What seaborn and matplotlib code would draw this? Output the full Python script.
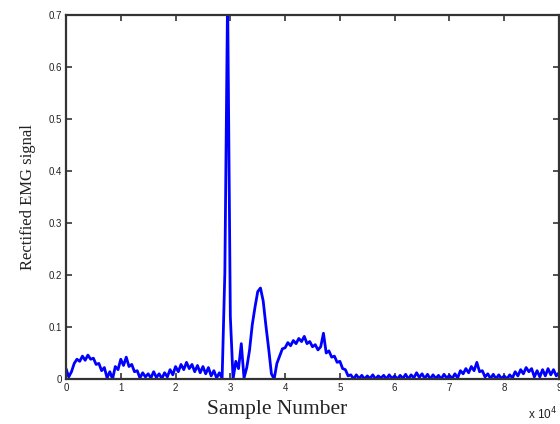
import numpy as np
import pandas as pd
import matplotlib
matplotlib.use("Agg")
import matplotlib.pyplot as plt
import seaborn as sns

# Rectified EMG amplitude, one reading every 500 samples (0 .. 90000)
step = 500
emg = [
    # 0 - 9500
    0.020, 0.004, 0.014, 0.030, 0.038, 0.034, 0.044, 0.036, 0.046, 0.038,
    0.040, 0.028, 0.030, 0.016, 0.022, 0.002, 0.014, 0.000, 0.024, 0.018,
    # 10000 - 19500
    0.038, 0.026, 0.042, 0.024, 0.028, 0.014, 0.016, 0.002, 0.012, 0.004,
    0.010, 0.002, 0.014, 0.003, 0.010, 0.001, 0.012, 0.004, 0.018, 0.008,
    # 20000 - 29500
    0.024, 0.014, 0.028, 0.018, 0.032, 0.020, 0.028, 0.014, 0.026, 0.012,
    0.024, 0.010, 0.022, 0.006, 0.016, 0.002, 0.012, 0.001, 0.205, 0.740,
    # 30000 - 39500
    0.120, 0.000, 0.034, 0.020, 0.068, 0.002, 0.022, 0.055, 0.104, 0.138,
    0.168, 0.175, 0.150, 0.102, 0.058, 0.010, 0.000, 0.030, 0.044, 0.058,
    # 40000 - 49500
    0.060, 0.070, 0.064, 0.074, 0.068, 0.078, 0.072, 0.082, 0.068, 0.072,
    0.062, 0.066, 0.056, 0.062, 0.088, 0.050, 0.054, 0.042, 0.044, 0.032,
    # 50000 - 59500
    0.034, 0.020, 0.018, 0.006, 0.008, 0.000, 0.008, 0.001, 0.007, 0.000,
    0.006, 0.001, 0.008, 0.000, 0.006, 0.002, 0.007, 0.000, 0.008, 0.001,
    # 60000 - 69500
    0.006, 0.000, 0.007, 0.001, 0.009, 0.000, 0.008, 0.002, 0.012, 0.003,
    0.010, 0.001, 0.009, 0.000, 0.008, 0.001, 0.007, 0.000, 0.009, 0.002,
    # 70000 - 79500
    0.007, 0.001, 0.010, 0.002, 0.016, 0.010, 0.020, 0.012, 0.024, 0.016,
    0.032, 0.014, 0.016, 0.004, 0.010, 0.001, 0.009, 0.000, 0.008, 0.001,
    # 80000 - 90000
    0.006, 0.000, 0.008, 0.002, 0.014, 0.006, 0.018, 0.010, 0.022, 0.014,
    0.020, 0.004, 0.016, 0.004, 0.018, 0.006, 0.020, 0.008, 0.018, 0.006,
    0.012,
]
sample_number = np.arange(len(emg)) * step

x_ticks = [0, 1, 2, 3, 4, 5, 6, 7, 8, 9]          # in units of 10^4
y_ticks = [0, 0.1, 0.2, 0.3, 0.4, 0.5, 0.6, 0.7]
y_tick_labels = ["0", "0.1", "0.2", "0.3", "0.4", "0.5", "0.6", "0.7"]

df = pd.DataFrame({"sample": sample_number / 1e4, "emg": emg})

sns.set_style("white")
plt.rcParams["font.family"] = ["Liberation Sans", "DejaVu Sans"]

fig = plt.figure(figsize=(5.6, 4.24), dpi=100)
ax = fig.add_axes([66 / 560, 45 / 424, 493 / 560, 364 / 424])

sns.lineplot(data=df, x="sample", y="emg", ax=ax, color="#0000ff",
             linewidth=2.0, estimator=None, sort=False)

ax.set_xlim(0, 9)
ax.set_ylim(0, 0.7)
ax.set_xticks(x_ticks)
ax.set_xticklabels([str(t) for t in x_ticks])
ax.set_yticks(y_ticks)
ax.set_yticklabels(y_tick_labels)

ax.tick_params(direction="in", length=4, width=1.2, color="#333333",
               labelsize=7, labelcolor="#222222", top=True, right=True,
               bottom=True, left=True, pad=3)
for s in ax.spines.values():
    s.set_color("#333333")
    s.set_linewidth(1.6)

ax.set_xlabel("Sample Number", family="Liberation Serif", fontsize=15.5,
              color="#222222")
ax.xaxis.set_label_coords(0.428, -0.058)
ax.set_ylabel("Rectified EMG signal", family="Liberation Serif", fontsize=12,
              color="#222222", labelpad=9)

# scale factor for the sample axis
fig.text(528 / 560, (424 - 414) / 424, r"x 10$^4$", fontsize=8.5,
         color="#222222", ha="left", va="center")

fig.savefig("out.png", dpi=100)
